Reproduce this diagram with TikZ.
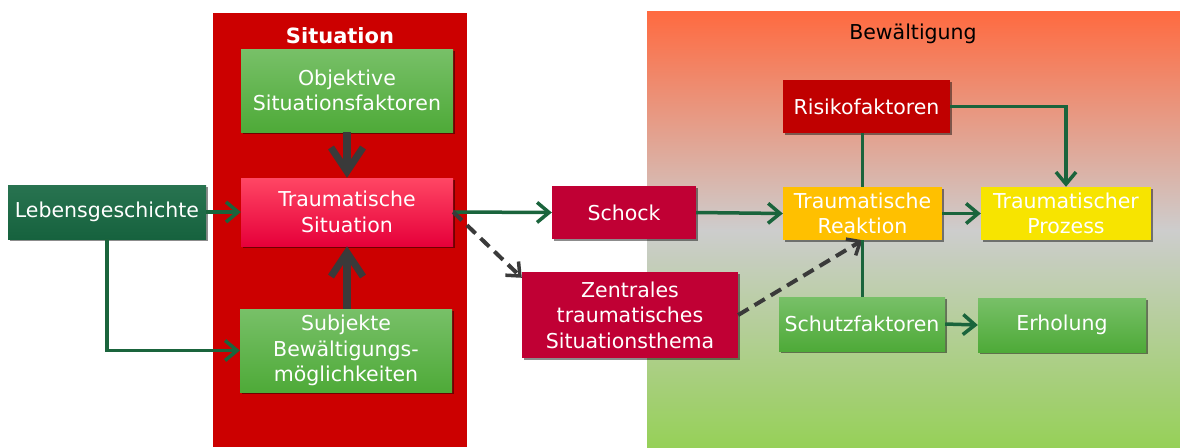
\documentclass[tikz,border=0pt]{standalone}
\usepackage{fontspec}
\setmainfont{DejaVu Sans}
\usetikzlibrary{arrows.meta,shadows,positioning}
\definecolor{sitred}{RGB}{204,0,0}
\definecolor{bwtop}{RGB}{255,106,64}
\definecolor{bwmid}{RGB}{205,205,205}
\definecolor{bwbot}{RGB}{150,208,88}
\definecolor{dkgreen}{RGB}{26,100,60}
\definecolor{lgtop}{RGB}{120,192,104}
\definecolor{lgbot}{RGB}{78,170,56}
\definecolor{dgtop}{RGB}{40,115,80}
\definecolor{dgbot}{RGB}{22,98,62}
\definecolor{rstop}{RGB}{255,70,100}
\definecolor{rsbot}{RGB}{230,0,58}
\definecolor{crimson}{RGB}{192,0,52}
\definecolor{risk}{RGB}{192,0,0}
\definecolor{amber}{RGB}{255,192,0}
\definecolor{yell}{RGB}{247,228,0}
\definecolor{arrgray}{RGB}{58,58,58}
\tikzset{
  box/.style={draw=none, align=center, text=white, inner sep=0pt,
    font=\fontsize{20.5}{25.5}\selectfont,
    drop shadow={shadow xshift=1.5pt,shadow yshift=-2pt,opacity=0.45,fill=black}},
  lgbox/.style={box, top color=lgtop, bottom color=lgbot},
  dgbox/.style={box, top color=dgtop, bottom color=dgbot},
  rsbox/.style={box, top color=rstop, bottom color=rsbot},
  crbox/.style={box, fill=crimson},
  gline/.style={draw=dkgreen, line width=3.5pt},
  garrow/.style={gline, -{Straight Barb[length=12pt,width=20pt,line width=3.5pt]}},
  thickarr/.style={draw=arrgray, line width=8pt, -{Straight Barb[length=24pt,width=32pt,line width=7pt]}},
  dasharr/.style={draw=arrgray, line width=4pt, dash pattern=on 12pt off 7pt,
    -{Straight Barb[length=11pt,width=19pt,line width=3.5pt]}},
}
\begin{document}
\begin{tikzpicture}[x=1pt,y=-1pt]
\useasboundingbox (0,0) rectangle (1180,447);
\fill[white] (0,0) rectangle (1180,447);
% regions
\fill[sitred] (213,13) rectangle (467,447);
\shade[top color=bwtop, bottom color=bwmid] (647,11) rectangle (1180,231);
\shade[top color=bwmid, bottom color=bwbot] (647,230) rectangle (1180,447);
\node[font=\fontsize{21}{24}\selectfont\bfseries, text=white] (tsit) at (340,36) {Situation};
\node[font=\fontsize{20.5}{24}\selectfont] (tbw) at (913,34) {Bewältigung};
% nodes
\node[dgbox, minimum width=198pt, minimum height=54pt] (leb) at (107,212) {Lebensgeschichte};
\node[lgbox, minimum width=212pt, minimum height=83pt] (obj) at (347,90.5) {Objektive\\Situationsfaktoren};
\node[rsbox, minimum width=212pt, minimum height=68pt] (ts) at (347,212) {Traumatische\\Situation};
\node[lgbox, minimum width=212pt, minimum height=83pt] (sub) at (346,350.5) {Subjekte\\Bewältigungs-\\möglichkeiten};
\node[crbox, minimum width=144pt, minimum height=53pt] (sch) at (624,212.5) {Schock};
\node[crbox, minimum width=216pt, minimum height=86pt] (zen) at (630,315) {Zentrales\\traumatisches\\Situationsthema};
\node[box, fill=risk, minimum width=167pt, minimum height=53pt] (ris) at (866.5,106.5) {Risikofaktoren};
\node[box, fill=amber, minimum width=159pt, minimum height=53pt] (tr) at (862.5,213.5) {Traumatische\\Reaktion};
\node[box, fill=yell, minimum width=170pt, minimum height=53pt] (tp) at (1066,213.5) {Traumatischer\\Prozess};
\node[lgbox, minimum width=166pt, minimum height=54pt] (sf) at (862,324) {Schutzfaktoren};
\node[lgbox, minimum width=168pt, minimum height=54pt] (erh) at (1062,325) {Erholung};
% connectors
\draw[garrow] (leb.east) -- (ts.west);
\draw[garrow] (leb.south) |- (sub.west);
\draw[thickarr] (obj.south) -- (ts.north);
\draw[thickarr] (sub.north -| ts.south) -- (ts.south);
\draw[garrow] (ts.east) -- (sch.west);
\draw[dasharr] (ts.east) -- ([yshift=-6pt]zen.north west);
\draw[garrow] (sch.east) -- (tr.west);
\draw[dasharr] (zen.east) -- (tr.south);
\draw[gline] (ris.south -| tr.north) -- (tr.north);
\draw[gline] (sf.north -| tr.south) -- (tr.south);
\draw[garrow] (ris.east) -| (tp.north);
\draw[garrow] (tr.east) -- (tp.west);
\draw[garrow] (sf.east) -- (erh.west);
\end{tikzpicture}
\end{document}
